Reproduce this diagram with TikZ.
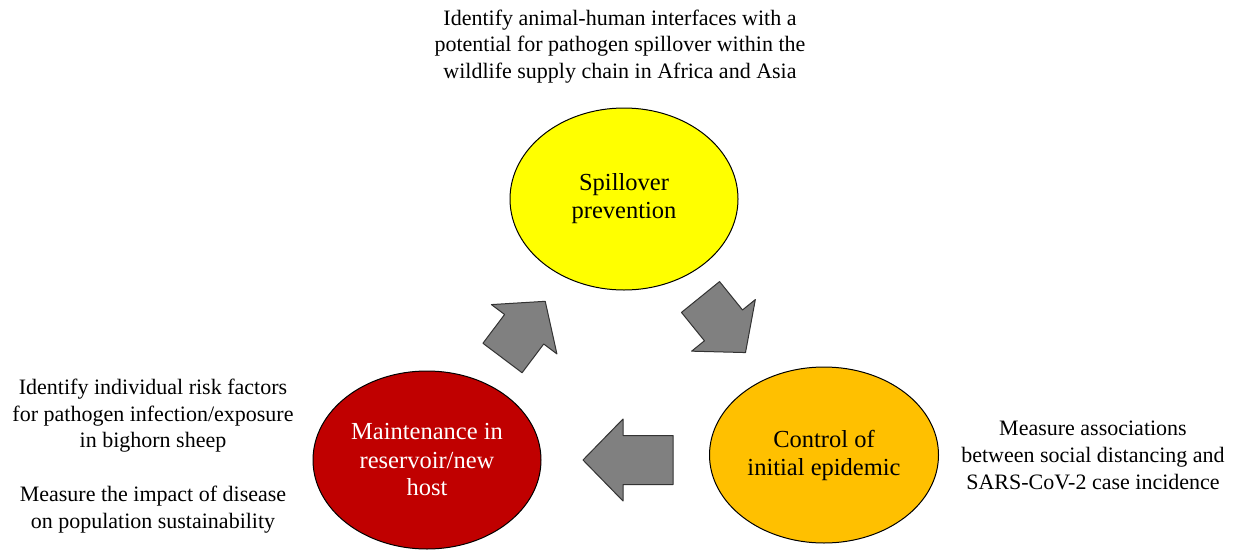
\documentclass[tikz,border=0pt]{standalone}
\usepackage{fontspec}
\setmainfont{Liberation Serif}
\usetikzlibrary{shapes.geometric}
\definecolor{spillyellow}{HTML}{FFFF00}
\definecolor{controlorange}{HTML}{FFC000}
\definecolor{reservoirred}{HTML}{C00000}
\definecolor{arrowgray}{HTML}{808080}
\begin{document}
\begin{tikzpicture}[x=1pt,y=-1pt,line join=round,
    stage/.style={ellipse,draw=black,line width=1pt,inner sep=0pt,align=center,
      font=\fontsize{24.5}{28}\selectfont},
    note/.style={align=center,font=\fontsize{22}{26.8}\selectfont},
    cyclearrow/.style={fill=arrowgray,draw=black!80,line width=1pt}]
  \useasboundingbox (0,0) rectangle (1234,552);
  % stages of the cycle
  \node[stage,fill=spillyellow,minimum width=228pt,minimum height=182pt] (spill) at (624,199) {Spillover\\prevention};
  \node[stage,fill=controlorange,minimum width=229pt,minimum height=176pt] (control) at (824,455) {Control of\\initial epidemic};
  \node[stage,fill=reservoirred,text=white,minimum width=228pt,minimum height=178pt] (reservoir) at (427,460) {Maintenance in\\reservoir/new\\host};
  % block arrows
  \draw[cyclearrow,shift={(502.5,358)},rotate=53]
    (0,-24.5) -- (36,-24.5) -- (36,-41) -- (71,0) -- (36,41) -- (36,24.5) -- (0,24.5) -- cycle;
  \draw[cyclearrow,shift={(700.5,297)},rotate=-51]
    (0,-24.5) -- (36.5,-24.5) -- (36.5,-41) -- (71.5,0) -- (36.5,41) -- (36.5,24.5) -- (0,24.5) -- cycle;
  \draw[cyclearrow,shift={(673,460)},rotate=180]
    (0,-24.5) -- (50,-24.5) -- (50,-41) -- (90,0) -- (50,41) -- (50,24.5) -- (0,24.5) -- cycle;
  % study notes
  \node[note] (spillnote) at (620,46.5) {Identify animal-human interfaces with a\\potential for pathogen spillover within the\\wildlife supply chain in Africa and Asia};
  \node[note] (controlnote) at (1093,455.5) {Measure associations\\between social distancing and\\SARS-CoV-2 case incidence};
  \node[note] (reservoirnote) at (153,456) {Identify individual risk factors\\for pathogen infection/exposure\\in bighorn sheep\\[26.8pt]Measure the impact of disease\\on population sustainability};
\end{tikzpicture}
\end{document}
